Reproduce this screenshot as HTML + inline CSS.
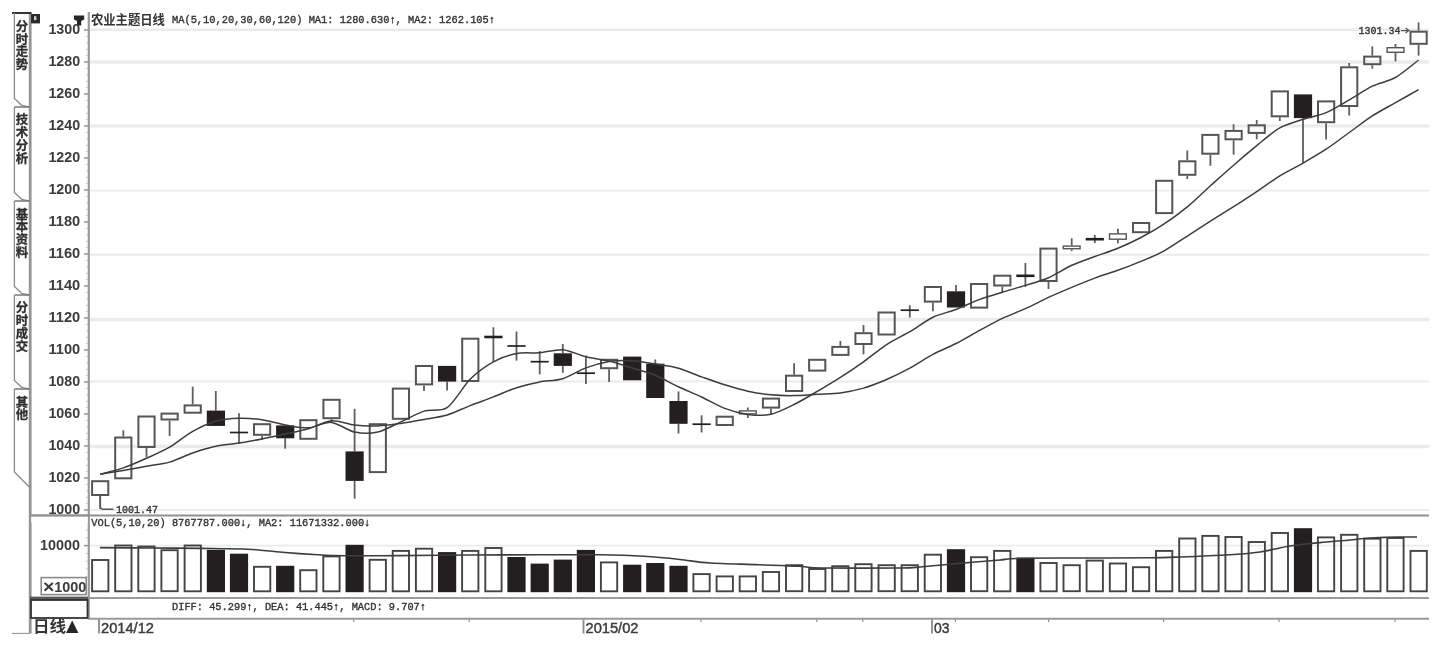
<!DOCTYPE html>
<html lang="zh-CN"><head><meta charset="utf-8"><title>农业主题日线</title>
<style>
html,body{margin:0;padding:0;background:#fff;}
body{width:1447px;height:645px;overflow:hidden;}
svg{display:block;filter:blur(0.6px);}
</style></head><body>
<svg width="1447" height="645" viewBox="0 0 1447 645">
<rect width="1447" height="645" fill="#fff"/>
<g class="grid">
<line x1="90" x2="1429" y1="29.8" y2="29.8" stroke="#ebebeb" stroke-width="2.4"/>
<line x1="90" x2="1429" y1="62.0" y2="62.0" stroke="#ebebeb" stroke-width="3.6"/>
<line x1="90" x2="1429" y1="126.0" y2="126.0" stroke="#ebebeb" stroke-width="3"/>
<line x1="90" x2="1429" y1="190.6" y2="190.6" stroke="#ebebeb" stroke-width="1.8"/>
<line x1="90" x2="1429" y1="254.8" y2="254.8" stroke="#ebebeb" stroke-width="2"/>
<line x1="90" x2="1429" y1="319.6" y2="319.6" stroke="#ebebeb" stroke-width="3.5"/>
<line x1="90" x2="1429" y1="381.6" y2="381.6" stroke="#ebebeb" stroke-width="2"/>
<line x1="90" x2="1429" y1="446.6" y2="446.6" stroke="#ebebeb" stroke-width="3.5"/>
<line x1="90" x2="1429" y1="510.0" y2="510.0" stroke="#ebebeb" stroke-width="2"/>
<line x1="90" x2="1429" y1="545.6" y2="545.6" stroke="#ebebeb" stroke-width="1.6"/>
</g>
<g class="frame">
<line x1="30.2" x2="30.2" y1="12" y2="633.5" stroke="#959595" stroke-width="2.8"/>
<line x1="88.8" x2="88.8" y1="12" y2="619" stroke="#9a9a9a" stroke-width="2.2"/>
<line x1="29" x2="1429" y1="515.4" y2="515.4" stroke="#8f8f8f" stroke-width="2"/>
<line x1="88" x2="1429" y1="598" y2="598" stroke="#9a9a9a" stroke-width="1.8"/>
<line x1="88" x2="1429" y1="618.8" y2="618.8" stroke="#9a9a9a" stroke-width="2"/>
<line x1="12" x2="30" y1="633.4" y2="633.4" stroke="#8f8f8f" stroke-width="1"/>
<line x1="84" x2="88" y1="30" y2="30" stroke="#9a9a9a" stroke-width="1.6"/>
<line x1="84" x2="88" y1="62" y2="62" stroke="#9a9a9a" stroke-width="1.6"/>
<line x1="84" x2="88" y1="94" y2="94" stroke="#9a9a9a" stroke-width="1.6"/>
<line x1="84" x2="88" y1="126" y2="126" stroke="#9a9a9a" stroke-width="1.6"/>
<line x1="84" x2="88" y1="158" y2="158" stroke="#9a9a9a" stroke-width="1.6"/>
<line x1="84" x2="88" y1="190" y2="190" stroke="#9a9a9a" stroke-width="1.6"/>
<line x1="84" x2="88" y1="222" y2="222" stroke="#9a9a9a" stroke-width="1.6"/>
<line x1="84" x2="88" y1="254" y2="254" stroke="#9a9a9a" stroke-width="1.6"/>
<line x1="84" x2="88" y1="286" y2="286" stroke="#9a9a9a" stroke-width="1.6"/>
<line x1="84" x2="88" y1="318" y2="318" stroke="#9a9a9a" stroke-width="1.6"/>
<line x1="84" x2="88" y1="350" y2="350" stroke="#9a9a9a" stroke-width="1.6"/>
<line x1="84" x2="88" y1="382" y2="382" stroke="#9a9a9a" stroke-width="1.6"/>
<line x1="84" x2="88" y1="414" y2="414" stroke="#9a9a9a" stroke-width="1.6"/>
<line x1="84" x2="88" y1="446" y2="446" stroke="#9a9a9a" stroke-width="1.6"/>
<line x1="84" x2="88" y1="478" y2="478" stroke="#9a9a9a" stroke-width="1.6"/>
<line x1="84" x2="88" y1="510" y2="510" stroke="#9a9a9a" stroke-width="1.6"/>
<line x1="86" x2="88" y1="36.4" y2="36.4" stroke="#c4c4c4" stroke-width="1"/>
<line x1="86" x2="88" y1="42.8" y2="42.8" stroke="#c4c4c4" stroke-width="1"/>
<line x1="86" x2="88" y1="49.2" y2="49.2" stroke="#c4c4c4" stroke-width="1"/>
<line x1="86" x2="88" y1="55.6" y2="55.6" stroke="#c4c4c4" stroke-width="1"/>
<line x1="86" x2="88" y1="68.4" y2="68.4" stroke="#c4c4c4" stroke-width="1"/>
<line x1="86" x2="88" y1="74.8" y2="74.8" stroke="#c4c4c4" stroke-width="1"/>
<line x1="86" x2="88" y1="81.2" y2="81.2" stroke="#c4c4c4" stroke-width="1"/>
<line x1="86" x2="88" y1="87.6" y2="87.6" stroke="#c4c4c4" stroke-width="1"/>
<line x1="86" x2="88" y1="100.4" y2="100.4" stroke="#c4c4c4" stroke-width="1"/>
<line x1="86" x2="88" y1="106.8" y2="106.8" stroke="#c4c4c4" stroke-width="1"/>
<line x1="86" x2="88" y1="113.2" y2="113.2" stroke="#c4c4c4" stroke-width="1"/>
<line x1="86" x2="88" y1="119.6" y2="119.6" stroke="#c4c4c4" stroke-width="1"/>
<line x1="86" x2="88" y1="132.4" y2="132.4" stroke="#c4c4c4" stroke-width="1"/>
<line x1="86" x2="88" y1="138.8" y2="138.8" stroke="#c4c4c4" stroke-width="1"/>
<line x1="86" x2="88" y1="145.2" y2="145.2" stroke="#c4c4c4" stroke-width="1"/>
<line x1="86" x2="88" y1="151.6" y2="151.6" stroke="#c4c4c4" stroke-width="1"/>
<line x1="86" x2="88" y1="164.4" y2="164.4" stroke="#c4c4c4" stroke-width="1"/>
<line x1="86" x2="88" y1="170.8" y2="170.8" stroke="#c4c4c4" stroke-width="1"/>
<line x1="86" x2="88" y1="177.2" y2="177.2" stroke="#c4c4c4" stroke-width="1"/>
<line x1="86" x2="88" y1="183.6" y2="183.6" stroke="#c4c4c4" stroke-width="1"/>
<line x1="86" x2="88" y1="196.4" y2="196.4" stroke="#c4c4c4" stroke-width="1"/>
<line x1="86" x2="88" y1="202.8" y2="202.8" stroke="#c4c4c4" stroke-width="1"/>
<line x1="86" x2="88" y1="209.2" y2="209.2" stroke="#c4c4c4" stroke-width="1"/>
<line x1="86" x2="88" y1="215.6" y2="215.6" stroke="#c4c4c4" stroke-width="1"/>
<line x1="86" x2="88" y1="228.4" y2="228.4" stroke="#c4c4c4" stroke-width="1"/>
<line x1="86" x2="88" y1="234.8" y2="234.8" stroke="#c4c4c4" stroke-width="1"/>
<line x1="86" x2="88" y1="241.2" y2="241.2" stroke="#c4c4c4" stroke-width="1"/>
<line x1="86" x2="88" y1="247.6" y2="247.6" stroke="#c4c4c4" stroke-width="1"/>
<line x1="86" x2="88" y1="260.4" y2="260.4" stroke="#c4c4c4" stroke-width="1"/>
<line x1="86" x2="88" y1="266.8" y2="266.8" stroke="#c4c4c4" stroke-width="1"/>
<line x1="86" x2="88" y1="273.2" y2="273.2" stroke="#c4c4c4" stroke-width="1"/>
<line x1="86" x2="88" y1="279.6" y2="279.6" stroke="#c4c4c4" stroke-width="1"/>
<line x1="86" x2="88" y1="292.4" y2="292.4" stroke="#c4c4c4" stroke-width="1"/>
<line x1="86" x2="88" y1="298.8" y2="298.8" stroke="#c4c4c4" stroke-width="1"/>
<line x1="86" x2="88" y1="305.2" y2="305.2" stroke="#c4c4c4" stroke-width="1"/>
<line x1="86" x2="88" y1="311.6" y2="311.6" stroke="#c4c4c4" stroke-width="1"/>
<line x1="86" x2="88" y1="324.4" y2="324.4" stroke="#c4c4c4" stroke-width="1"/>
<line x1="86" x2="88" y1="330.8" y2="330.8" stroke="#c4c4c4" stroke-width="1"/>
<line x1="86" x2="88" y1="337.2" y2="337.2" stroke="#c4c4c4" stroke-width="1"/>
<line x1="86" x2="88" y1="343.6" y2="343.6" stroke="#c4c4c4" stroke-width="1"/>
<line x1="86" x2="88" y1="356.4" y2="356.4" stroke="#c4c4c4" stroke-width="1"/>
<line x1="86" x2="88" y1="362.8" y2="362.8" stroke="#c4c4c4" stroke-width="1"/>
<line x1="86" x2="88" y1="369.2" y2="369.2" stroke="#c4c4c4" stroke-width="1"/>
<line x1="86" x2="88" y1="375.6" y2="375.6" stroke="#c4c4c4" stroke-width="1"/>
<line x1="86" x2="88" y1="388.4" y2="388.4" stroke="#c4c4c4" stroke-width="1"/>
<line x1="86" x2="88" y1="394.8" y2="394.8" stroke="#c4c4c4" stroke-width="1"/>
<line x1="86" x2="88" y1="401.2" y2="401.2" stroke="#c4c4c4" stroke-width="1"/>
<line x1="86" x2="88" y1="407.6" y2="407.6" stroke="#c4c4c4" stroke-width="1"/>
<line x1="86" x2="88" y1="420.4" y2="420.4" stroke="#c4c4c4" stroke-width="1"/>
<line x1="86" x2="88" y1="426.8" y2="426.8" stroke="#c4c4c4" stroke-width="1"/>
<line x1="86" x2="88" y1="433.2" y2="433.2" stroke="#c4c4c4" stroke-width="1"/>
<line x1="86" x2="88" y1="439.6" y2="439.6" stroke="#c4c4c4" stroke-width="1"/>
<line x1="86" x2="88" y1="452.4" y2="452.4" stroke="#c4c4c4" stroke-width="1"/>
<line x1="86" x2="88" y1="458.8" y2="458.8" stroke="#c4c4c4" stroke-width="1"/>
<line x1="86" x2="88" y1="465.2" y2="465.2" stroke="#c4c4c4" stroke-width="1"/>
<line x1="86" x2="88" y1="471.6" y2="471.6" stroke="#c4c4c4" stroke-width="1"/>
<line x1="86" x2="88" y1="484.4" y2="484.4" stroke="#c4c4c4" stroke-width="1"/>
<line x1="86" x2="88" y1="490.8" y2="490.8" stroke="#c4c4c4" stroke-width="1"/>
<line x1="86" x2="88" y1="497.2" y2="497.2" stroke="#c4c4c4" stroke-width="1"/>
<line x1="86" x2="88" y1="503.6" y2="503.6" stroke="#c4c4c4" stroke-width="1"/>
<line x1="85.5" x2="88" y1="530" y2="530" stroke="#c4c4c4" stroke-width="1"/>
<line x1="85.5" x2="88" y1="537.8" y2="537.8" stroke="#c4c4c4" stroke-width="1"/>
<line x1="85.5" x2="88" y1="545.6" y2="545.6" stroke="#c4c4c4" stroke-width="1"/>
<line x1="85.5" x2="88" y1="553.4" y2="553.4" stroke="#c4c4c4" stroke-width="1"/>
<line x1="85.5" x2="88" y1="561.2" y2="561.2" stroke="#c4c4c4" stroke-width="1"/>
<line x1="85.5" x2="88" y1="569" y2="569" stroke="#c4c4c4" stroke-width="1"/>
<line x1="85.5" x2="88" y1="576.8" y2="576.8" stroke="#c4c4c4" stroke-width="1"/>
<line x1="84" x2="88" y1="545.6" y2="545.6" stroke="#9a9a9a" stroke-width="1.6"/>
<rect x="30" y="596.6" width="58" height="4" fill="#5a5a5a"/>
<rect x="31" y="600" width="56.5" height="18" fill="#fff" stroke="#333" stroke-width="1.8"/>
<rect x="41.2" y="577.6" width="45" height="17" fill="#fff" stroke="#8a8a8a" stroke-width="1.6"/>
</g>
<g class="tabs" fill="none">
<line x1="12" x2="31.4" y1="13" y2="13" stroke="#333" stroke-width="2"/>
<path d="M14.4 13 V98.5 L21.7 105.3 L29 107" stroke="#8a8a8a" stroke-width="1.3"/>
<line x1="14.4" x2="29.5" y1="107" y2="107" stroke="#777" stroke-width="1.5"/>
<path d="M14.4 107 V192.5 L21.7 199.3 L29 201" stroke="#8a8a8a" stroke-width="1.3"/>
<line x1="14.4" x2="29.5" y1="201" y2="201" stroke="#777" stroke-width="1.5"/>
<path d="M14.4 201 V286.5 L21.7 293.3 L29 295" stroke="#8a8a8a" stroke-width="1.3"/>
<line x1="14.4" x2="29.5" y1="295" y2="295" stroke="#777" stroke-width="1.5"/>
<path d="M14.4 295 V380.5 L21.7 387.3 L29 389" stroke="#8a8a8a" stroke-width="1.3"/>
<line x1="14.4" x2="29.5" y1="389" y2="389" stroke="#777" stroke-width="1.5"/>
<path d="M14.4 389 V472 L29.3 487" stroke="#8a8a8a" stroke-width="1.3"/>
</g>
<rect x="31" y="14" width="9" height="9.4" fill="#2b2b2b"/><rect x="34" y="16.2" width="2.4" height="4" fill="#cfcfcf"/>
<path d="M74 15.5 H84.2 V19.5 L81.2 21 V25.5 H77 V21 L74 19.5 Z" fill="#262626"/>
<g class="k" stroke-linecap="butt">
<line x1="100.2" x2="100.2" y1="496" y2="509.0" stroke="#5e5e5e" stroke-width="1.8"/>
<rect x="92.1" y="481.20" width="16.2" height="13.80" fill="none" stroke="#555" stroke-width="2.0"/>
<line x1="123.3" x2="123.3" y1="430.3" y2="436.5" stroke="#5e5e5e" stroke-width="1.8"/>
<rect x="115.2" y="437.50" width="16.2" height="40.80" fill="none" stroke="#555" stroke-width="2.0"/>
<line x1="146.5" x2="146.5" y1="448" y2="457" stroke="#5e5e5e" stroke-width="1.8"/>
<rect x="138.4" y="416.50" width="16.2" height="30.50" fill="none" stroke="#555" stroke-width="2.0"/>
<line x1="169.6" x2="169.6" y1="420.5" y2="436" stroke="#5e5e5e" stroke-width="1.8"/>
<rect x="161.5" y="413.60" width="16.2" height="5.90" fill="none" stroke="#555" stroke-width="2.0"/>
<line x1="192.7" x2="192.7" y1="386.6" y2="404.4" stroke="#5e5e5e" stroke-width="1.8"/>
<rect x="184.6" y="405.40" width="16.2" height="7.30" fill="none" stroke="#555" stroke-width="2.0"/>
<line x1="215.8" x2="215.8" y1="391" y2="410.6" stroke="#5e5e5e" stroke-width="1.8"/>
<rect x="206.8" y="410.6" width="18.2" height="15.3" fill="#231f20"/>
<line x1="239.0" x2="239.0" y1="413.2" y2="443.8" stroke="#5e5e5e" stroke-width="1.8"/>
<line x1="229.9" x2="248.1" y1="432.5" y2="432.5" stroke="#231f20" stroke-width="1.7"/>
<line x1="262.1" x2="262.1" y1="435.8" y2="439.8" stroke="#5e5e5e" stroke-width="1.8"/>
<rect x="254.0" y="424.20" width="16.2" height="10.60" fill="none" stroke="#555" stroke-width="2.0"/>
<line x1="285.2" x2="285.2" y1="438.3" y2="448.7" stroke="#5e5e5e" stroke-width="1.8"/>
<rect x="276.1" y="425.4" width="18.2" height="12.9" fill="#231f20"/>
<rect x="300.3" y="420.20" width="16.2" height="18.60" fill="none" stroke="#555" stroke-width="2.0"/>
<line x1="331.5" x2="331.5" y1="419.2" y2="423" stroke="#5e5e5e" stroke-width="1.8"/>
<rect x="323.4" y="399.80" width="16.2" height="18.40" fill="none" stroke="#555" stroke-width="2.0"/>
<line x1="354.6" x2="354.6" y1="408.8" y2="451.4" stroke="#5e5e5e" stroke-width="1.8"/>
<line x1="354.6" x2="354.6" y1="480.9" y2="498.6" stroke="#5e5e5e" stroke-width="1.8"/>
<rect x="345.5" y="451.4" width="18.2" height="29.5" fill="#231f20"/>
<rect x="369.7" y="424.20" width="16.2" height="47.90" fill="none" stroke="#555" stroke-width="2.0"/>
<rect x="392.8" y="388.60" width="16.2" height="30.20" fill="none" stroke="#555" stroke-width="2.0"/>
<line x1="424.0" x2="424.0" y1="385.4" y2="391" stroke="#5e5e5e" stroke-width="1.8"/>
<rect x="415.9" y="366.00" width="16.2" height="18.40" fill="none" stroke="#555" stroke-width="2.0"/>
<line x1="447.1" x2="447.1" y1="381.6" y2="390.5" stroke="#5e5e5e" stroke-width="1.8"/>
<rect x="438.0" y="365.9" width="18.2" height="15.7" fill="#231f20"/>
<rect x="462.2" y="338.70" width="16.2" height="42.30" fill="none" stroke="#555" stroke-width="2.0"/>
<line x1="493.4" x2="493.4" y1="327.3" y2="362" stroke="#5e5e5e" stroke-width="1.8"/>
<line x1="484.3" x2="502.5" y1="337" y2="337" stroke="#231f20" stroke-width="2.6"/>
<line x1="516.5" x2="516.5" y1="331.5" y2="360.6" stroke="#5e5e5e" stroke-width="1.8"/>
<line x1="507.4" x2="525.6" y1="346" y2="346" stroke="#231f20" stroke-width="1.7"/>
<line x1="539.7" x2="539.7" y1="351" y2="374.3" stroke="#5e5e5e" stroke-width="1.8"/>
<line x1="530.6" x2="548.8" y1="361.7" y2="361.7" stroke="#231f20" stroke-width="1.7"/>
<line x1="562.8" x2="562.8" y1="344" y2="353.3" stroke="#5e5e5e" stroke-width="1.8"/>
<line x1="562.8" x2="562.8" y1="365.9" y2="372.8" stroke="#5e5e5e" stroke-width="1.8"/>
<rect x="553.7" y="353.3" width="18.2" height="12.6" fill="#231f20"/>
<line x1="585.9" x2="585.9" y1="355.5" y2="383.9" stroke="#5e5e5e" stroke-width="1.8"/>
<line x1="576.8" x2="595.0" y1="373.2" y2="373.2" stroke="#231f20" stroke-width="1.7"/>
<line x1="609.1" x2="609.1" y1="369.2" y2="382" stroke="#5e5e5e" stroke-width="1.8"/>
<rect x="601.0" y="359.80" width="16.2" height="8.40" fill="none" stroke="#555" stroke-width="2.0"/>
<rect x="623.1" y="356.6" width="18.2" height="23.7" fill="#231f20"/>
<line x1="655.3" x2="655.3" y1="359.5" y2="363.7" stroke="#5e5e5e" stroke-width="1.8"/>
<rect x="646.2" y="363.7" width="18.2" height="34.3" fill="#231f20"/>
<line x1="678.5" x2="678.5" y1="391.4" y2="401" stroke="#5e5e5e" stroke-width="1.8"/>
<line x1="678.5" x2="678.5" y1="423.8" y2="433.5" stroke="#5e5e5e" stroke-width="1.8"/>
<rect x="669.4" y="401" width="18.2" height="22.8" fill="#231f20"/>
<line x1="701.6" x2="701.6" y1="415.3" y2="432.4" stroke="#5e5e5e" stroke-width="1.8"/>
<line x1="692.5" x2="710.7" y1="424.2" y2="424.2" stroke="#231f20" stroke-width="1.7"/>
<rect x="716.6" y="416.70" width="16.2" height="8.30" fill="none" stroke="#555" stroke-width="2.0"/>
<line x1="747.8" x2="747.8" y1="407.5" y2="410.2" stroke="#5e5e5e" stroke-width="1.8"/>
<line x1="747.8" x2="747.8" y1="414.6" y2="418" stroke="#5e5e5e" stroke-width="1.8"/>
<rect x="739.4" y="410.90" width="16.8" height="3.00" fill="none" stroke="#555" stroke-width="1.4"/>
<line x1="771.0" x2="771.0" y1="408.6" y2="414.2" stroke="#5e5e5e" stroke-width="1.8"/>
<rect x="762.9" y="398.60" width="16.2" height="9.00" fill="none" stroke="#555" stroke-width="2.0"/>
<line x1="794.1" x2="794.1" y1="363.2" y2="374.7" stroke="#5e5e5e" stroke-width="1.8"/>
<rect x="786.0" y="375.70" width="16.2" height="15.30" fill="none" stroke="#555" stroke-width="2.0"/>
<rect x="809.1" y="359.80" width="16.2" height="10.80" fill="none" stroke="#555" stroke-width="2.0"/>
<line x1="840.4" x2="840.4" y1="341" y2="345.9" stroke="#5e5e5e" stroke-width="1.8"/>
<rect x="832.3" y="346.90" width="16.2" height="8.00" fill="none" stroke="#555" stroke-width="2.0"/>
<line x1="863.5" x2="863.5" y1="325" y2="332.2" stroke="#5e5e5e" stroke-width="1.8"/>
<line x1="863.5" x2="863.5" y1="345" y2="354.3" stroke="#5e5e5e" stroke-width="1.8"/>
<rect x="855.4" y="333.20" width="16.2" height="10.80" fill="none" stroke="#555" stroke-width="2.0"/>
<rect x="878.5" y="312.50" width="16.2" height="22.00" fill="none" stroke="#555" stroke-width="2.0"/>
<line x1="909.8" x2="909.8" y1="305.3" y2="317.5" stroke="#5e5e5e" stroke-width="1.8"/>
<line x1="900.6" x2="918.9" y1="310.2" y2="310.2" stroke="#231f20" stroke-width="1.7"/>
<line x1="932.9" x2="932.9" y1="302.6" y2="311.3" stroke="#5e5e5e" stroke-width="1.8"/>
<rect x="924.8" y="287.00" width="16.2" height="14.60" fill="none" stroke="#555" stroke-width="2.0"/>
<line x1="956.0" x2="956.0" y1="285" y2="291.3" stroke="#5e5e5e" stroke-width="1.8"/>
<rect x="946.9" y="291.3" width="18.2" height="16.2" fill="#231f20"/>
<rect x="971.0" y="284.00" width="16.2" height="23.60" fill="none" stroke="#555" stroke-width="2.0"/>
<line x1="1002.3" x2="1002.3" y1="286.5" y2="292.4" stroke="#5e5e5e" stroke-width="1.8"/>
<rect x="994.2" y="275.70" width="16.2" height="9.80" fill="none" stroke="#555" stroke-width="2.0"/>
<line x1="1025.4" x2="1025.4" y1="263" y2="287" stroke="#5e5e5e" stroke-width="1.8"/>
<line x1="1016.3" x2="1034.5" y1="275.8" y2="275.8" stroke="#231f20" stroke-width="2.6"/>
<line x1="1048.5" x2="1048.5" y1="282" y2="289" stroke="#5e5e5e" stroke-width="1.8"/>
<rect x="1040.4" y="248.60" width="16.2" height="32.40" fill="none" stroke="#555" stroke-width="2.0"/>
<line x1="1071.7" x2="1071.7" y1="238.3" y2="245.4" stroke="#5e5e5e" stroke-width="1.8"/>
<line x1="1071.7" x2="1071.7" y1="249.4" y2="251" stroke="#5e5e5e" stroke-width="1.8"/>
<rect x="1063.3" y="246.10" width="16.8" height="2.60" fill="none" stroke="#555" stroke-width="1.4"/>
<line x1="1094.8" x2="1094.8" y1="235" y2="243" stroke="#5e5e5e" stroke-width="1.8"/>
<line x1="1085.7" x2="1103.9" y1="239.2" y2="239.2" stroke="#231f20" stroke-width="2.6"/>
<line x1="1117.9" x2="1117.9" y1="228.8" y2="233.2" stroke="#5e5e5e" stroke-width="1.8"/>
<line x1="1117.9" x2="1117.9" y1="239.9" y2="243.2" stroke="#5e5e5e" stroke-width="1.8"/>
<rect x="1109.5" y="233.90" width="16.8" height="5.30" fill="none" stroke="#555" stroke-width="1.4"/>
<rect x="1133.0" y="223.00" width="16.2" height="9.20" fill="none" stroke="#555" stroke-width="2.0"/>
<rect x="1156.1" y="180.80" width="16.2" height="32.30" fill="none" stroke="#555" stroke-width="2.0"/>
<line x1="1187.3" x2="1187.3" y1="150.5" y2="160.3" stroke="#5e5e5e" stroke-width="1.8"/>
<line x1="1187.3" x2="1187.3" y1="175.8" y2="179" stroke="#5e5e5e" stroke-width="1.8"/>
<rect x="1179.2" y="161.30" width="16.2" height="13.50" fill="none" stroke="#555" stroke-width="2.0"/>
<line x1="1210.4" x2="1210.4" y1="154.7" y2="165.8" stroke="#5e5e5e" stroke-width="1.8"/>
<rect x="1202.3" y="134.90" width="16.2" height="18.80" fill="none" stroke="#555" stroke-width="2.0"/>
<line x1="1233.6" x2="1233.6" y1="124.3" y2="129.9" stroke="#5e5e5e" stroke-width="1.8"/>
<line x1="1233.6" x2="1233.6" y1="140.3" y2="154.7" stroke="#5e5e5e" stroke-width="1.8"/>
<rect x="1225.5" y="130.90" width="16.2" height="8.40" fill="none" stroke="#555" stroke-width="2.0"/>
<line x1="1256.7" x2="1256.7" y1="120" y2="124.3" stroke="#5e5e5e" stroke-width="1.8"/>
<line x1="1256.7" x2="1256.7" y1="133.9" y2="139.2" stroke="#5e5e5e" stroke-width="1.8"/>
<rect x="1248.6" y="125.30" width="16.2" height="7.60" fill="none" stroke="#555" stroke-width="2.0"/>
<line x1="1279.8" x2="1279.8" y1="117.3" y2="121" stroke="#5e5e5e" stroke-width="1.8"/>
<rect x="1271.7" y="91.40" width="16.2" height="24.90" fill="none" stroke="#555" stroke-width="2.0"/>
<line x1="1303.0" x2="1303.0" y1="118.1" y2="163.1" stroke="#5e5e5e" stroke-width="1.8"/>
<rect x="1293.9" y="94.4" width="18.2" height="23.7" fill="#231f20"/>
<line x1="1326.1" x2="1326.1" y1="123.2" y2="139.4" stroke="#5e5e5e" stroke-width="1.8"/>
<rect x="1318.0" y="101.40" width="16.2" height="20.80" fill="none" stroke="#555" stroke-width="2.0"/>
<line x1="1349.2" x2="1349.2" y1="63" y2="66.3" stroke="#5e5e5e" stroke-width="1.8"/>
<line x1="1349.2" x2="1349.2" y1="107" y2="115.5" stroke="#5e5e5e" stroke-width="1.8"/>
<rect x="1341.1" y="67.30" width="16.2" height="38.70" fill="none" stroke="#555" stroke-width="2.0"/>
<line x1="1372.3" x2="1372.3" y1="46.4" y2="55.6" stroke="#5e5e5e" stroke-width="1.8"/>
<line x1="1372.3" x2="1372.3" y1="65.2" y2="68.8" stroke="#5e5e5e" stroke-width="1.8"/>
<rect x="1364.2" y="56.60" width="16.2" height="7.60" fill="none" stroke="#555" stroke-width="2.0"/>
<line x1="1395.5" x2="1395.5" y1="44" y2="47" stroke="#5e5e5e" stroke-width="1.8"/>
<line x1="1395.5" x2="1395.5" y1="53" y2="61.4" stroke="#5e5e5e" stroke-width="1.8"/>
<rect x="1387.1" y="47.70" width="16.8" height="4.60" fill="none" stroke="#555" stroke-width="1.4"/>
<line x1="1418.6" x2="1418.6" y1="22.4" y2="30.7" stroke="#5e5e5e" stroke-width="1.8"/>
<line x1="1418.6" x2="1418.6" y1="44.8" y2="55.6" stroke="#5e5e5e" stroke-width="1.8"/>
<rect x="1410.5" y="31.70" width="16.2" height="12.10" fill="none" stroke="#555" stroke-width="2.0"/>
</g>
<path fill="none" stroke="#3d3d3d" stroke-width="1.5" stroke-linejoin="round" d="M100.2 474.2 C103.5 473.3 116.7 470.2 123.3 467.9 C129.9 465.6 139.9 461.3 146.5 458.3 C153.1 455.3 163.0 451.1 169.6 447.2 C176.2 443.3 186.1 435.0 192.7 431.3 C199.3 427.6 209.2 423.1 215.8 421.2 C222.5 419.3 232.4 418.4 239.0 418.2 C245.6 418.0 255.5 418.8 262.1 419.7 C268.7 420.7 278.6 423.7 285.2 424.9 C291.8 426.0 301.8 428.2 308.4 427.8 C315.0 427.5 324.9 421.8 331.5 422.4 C338.1 423.0 348.0 430.7 354.6 432.1 C361.2 433.5 371.2 433.5 377.8 432.1 C384.4 430.6 394.3 424.9 400.9 421.9 C407.5 418.9 417.4 413.1 424.0 411.1 C430.6 409.1 440.5 412.2 447.1 407.7 C453.8 403.1 463.7 385.6 470.3 379.0 C476.9 372.5 486.8 365.4 493.4 361.8 C500.0 358.1 509.9 354.7 516.5 353.5 C523.1 352.2 533.1 353.3 539.7 352.8 C546.3 352.3 556.2 349.1 562.8 349.7 C569.4 350.2 579.3 355.1 585.9 356.8 C592.5 358.4 602.5 359.5 609.1 361.1 C615.7 362.7 625.6 366.0 632.2 368.0 C638.8 370.0 648.7 372.5 655.3 375.2 C661.9 377.9 671.8 383.7 678.5 386.8 C685.1 389.9 695.0 393.9 701.6 397.0 C708.2 400.1 718.1 405.9 724.7 408.4 C731.3 410.9 741.2 413.5 747.8 414.4 C754.4 415.2 764.4 415.7 771.0 414.3 C777.6 412.9 787.5 407.8 794.1 404.5 C800.7 401.2 810.6 395.3 817.2 391.4 C823.8 387.5 833.8 381.7 840.4 377.4 C847.0 373.2 856.9 366.5 863.5 361.8 C870.1 357.2 880.0 348.9 886.6 344.6 C893.2 340.3 903.1 335.6 909.8 331.7 C916.4 327.8 926.3 320.3 932.9 317.2 C939.5 314.0 949.4 312.0 956.0 309.5 C962.6 307.0 972.5 302.1 979.1 299.6 C985.7 297.2 995.7 294.3 1002.3 292.3 C1008.9 290.2 1018.8 287.5 1025.4 285.4 C1032.0 283.3 1041.9 280.6 1048.5 277.7 C1055.1 274.8 1065.1 268.3 1071.7 265.3 C1078.3 262.3 1088.2 259.0 1094.8 256.5 C1101.4 254.1 1111.3 251.0 1117.9 248.2 C1124.5 245.5 1134.4 241.0 1141.0 237.5 C1147.7 234.0 1157.6 228.3 1164.2 223.9 C1170.8 219.6 1180.7 212.3 1187.3 206.9 C1193.9 201.5 1203.8 191.8 1210.4 185.8 C1217.0 179.9 1227.0 170.9 1233.6 165.2 C1240.2 159.4 1250.1 151.0 1256.7 145.6 C1263.3 140.3 1273.2 131.5 1279.8 127.8 C1286.4 124.0 1296.4 121.5 1303.0 119.3 C1309.6 117.2 1319.5 115.4 1326.1 112.6 C1332.7 109.8 1342.6 103.7 1349.2 99.9 C1355.8 96.1 1365.7 89.4 1372.3 86.2 C1379.0 83.0 1388.9 81.2 1395.5 77.5 C1402.1 73.7 1415.3 62.5 1418.6 60.0"/>
<path fill="none" stroke="#3d3d3d" stroke-width="1.5" stroke-linejoin="round" d="M100.2 474.2 C103.5 473.7 116.7 471.5 123.3 470.4 C129.9 469.3 139.9 467.4 146.5 466.2 C153.1 465.0 163.0 464.0 169.6 462.1 C176.2 460.2 186.1 455.3 192.7 453.0 C199.3 450.7 209.2 447.7 215.8 446.3 C222.5 444.9 232.4 444.1 239.0 443.0 C245.6 441.9 255.5 440.2 262.1 438.9 C268.7 437.6 278.6 435.4 285.2 434.0 C291.8 432.6 301.8 430.7 308.4 428.8 C315.0 426.9 324.9 421.2 331.5 420.7 C338.1 420.2 348.0 424.4 354.6 425.1 C361.2 425.9 371.2 426.1 377.8 425.9 C384.4 425.7 394.3 424.3 400.9 423.4 C407.5 422.5 417.4 420.7 424.0 419.5 C430.6 418.3 440.5 417.0 447.1 415.0 C453.8 413.0 463.7 408.1 470.3 405.6 C476.9 403.0 486.8 399.5 493.4 396.9 C500.0 394.4 509.9 389.8 516.5 387.7 C523.1 385.6 533.1 383.2 539.7 381.9 C546.3 380.7 556.2 380.7 562.8 378.7 C569.4 376.7 579.3 370.3 585.9 367.9 C592.5 365.4 602.5 362.5 609.1 361.4 C615.7 360.4 625.6 360.4 632.2 360.7 C638.8 361.1 648.7 362.9 655.3 364.0 C661.9 365.1 671.8 366.4 678.5 368.2 C685.1 370.1 695.0 374.5 701.6 376.9 C708.2 379.2 718.1 382.7 724.7 384.8 C731.3 386.8 741.2 389.7 747.8 391.2 C754.4 392.6 764.4 394.1 771.0 394.8 C777.6 395.4 787.5 395.7 794.1 395.6 C800.7 395.6 810.6 394.6 817.2 394.2 C823.8 393.8 833.8 393.8 840.4 392.9 C847.0 392.0 856.9 390.0 863.5 388.1 C870.1 386.2 880.0 382.3 886.6 379.5 C893.2 376.6 903.1 371.7 909.8 368.1 C916.4 364.5 926.3 357.8 932.9 354.3 C939.5 350.8 949.4 346.8 956.0 343.5 C962.6 340.1 972.5 334.3 979.1 330.7 C985.7 327.2 995.7 321.6 1002.3 318.4 C1008.9 315.3 1018.8 311.6 1025.4 308.6 C1032.0 305.6 1041.9 300.5 1048.5 297.4 C1055.1 294.4 1065.1 290.2 1071.7 287.4 C1078.3 284.6 1088.2 280.5 1094.8 278.1 C1101.4 275.6 1111.3 272.6 1117.9 270.3 C1124.5 267.9 1134.4 264.2 1141.0 261.4 C1147.7 258.7 1157.6 254.4 1164.2 250.8 C1170.8 247.2 1180.7 240.3 1187.3 236.1 C1193.9 231.9 1203.8 225.4 1210.4 221.2 C1217.0 217.0 1227.0 210.9 1233.6 206.7 C1240.2 202.5 1250.1 196.0 1256.7 191.6 C1263.3 187.2 1273.2 179.9 1279.8 175.8 C1286.4 171.8 1296.4 166.9 1303.0 163.1 C1309.6 159.3 1319.5 153.6 1326.1 149.2 C1332.7 144.9 1342.6 137.3 1349.2 132.5 C1355.8 127.8 1365.7 120.2 1372.3 115.9 C1379.0 111.6 1388.9 106.4 1395.5 102.6 C1402.1 98.9 1415.3 91.5 1418.6 89.7"/>
<path d="M100.2 496 V507.5 L102.3 509.3 H113.5" fill="none" stroke="#555" stroke-width="1.4"/>
<path d="M1401 30.6 H1409 M1405.5 28 L1409 30.6 L1405.5 33" fill="none" stroke="#555" stroke-width="1.2"/>
<g class="vol">
<rect x="92.1" y="560.0" width="16.3" height="31.3" fill="none" stroke="#444" stroke-width="1.9"/>
<rect x="115.2" y="545.5" width="16.3" height="45.8" fill="none" stroke="#444" stroke-width="1.9"/>
<rect x="138.3" y="546.5" width="16.3" height="44.8" fill="none" stroke="#444" stroke-width="1.9"/>
<rect x="161.4" y="550.2" width="16.3" height="41.0" fill="none" stroke="#444" stroke-width="1.9"/>
<rect x="184.6" y="545.5" width="16.3" height="45.8" fill="none" stroke="#444" stroke-width="1.9"/>
<rect x="206.8" y="549.8" width="18.2" height="42.4" fill="#231f20"/>
<rect x="229.9" y="553.7" width="18.2" height="38.5" fill="#231f20"/>
<rect x="254.0" y="566.8" width="16.3" height="24.5" fill="none" stroke="#444" stroke-width="1.9"/>
<rect x="276.1" y="565.8" width="18.2" height="26.4" fill="#231f20"/>
<rect x="300.2" y="570.2" width="16.3" height="21.1" fill="none" stroke="#444" stroke-width="1.9"/>
<rect x="323.3" y="556.4" width="16.3" height="34.9" fill="none" stroke="#444" stroke-width="1.9"/>
<rect x="345.5" y="544.8" width="18.2" height="47.4" fill="#231f20"/>
<rect x="369.6" y="559.8" width="16.3" height="31.5" fill="none" stroke="#444" stroke-width="1.9"/>
<rect x="392.7" y="550.9" width="16.3" height="40.4" fill="none" stroke="#444" stroke-width="1.9"/>
<rect x="415.9" y="548.7" width="16.3" height="42.6" fill="none" stroke="#444" stroke-width="1.9"/>
<rect x="438.0" y="552.1" width="18.2" height="40.1" fill="#231f20"/>
<rect x="462.1" y="550.9" width="16.3" height="40.4" fill="none" stroke="#444" stroke-width="1.9"/>
<rect x="485.3" y="548.0" width="16.3" height="43.3" fill="none" stroke="#444" stroke-width="1.9"/>
<rect x="507.4" y="557" width="18.2" height="35.2" fill="#231f20"/>
<rect x="530.6" y="563.6" width="18.2" height="28.6" fill="#231f20"/>
<rect x="553.7" y="559.6" width="18.2" height="32.6" fill="#231f20"/>
<rect x="576.8" y="549.9" width="18.2" height="42.3" fill="#231f20"/>
<rect x="600.9" y="562.4" width="16.3" height="28.9" fill="none" stroke="#444" stroke-width="1.9"/>
<rect x="623.1" y="564.7" width="18.2" height="27.5" fill="#231f20"/>
<rect x="646.2" y="563" width="18.2" height="29.2" fill="#231f20"/>
<rect x="669.4" y="565.8" width="18.2" height="26.4" fill="#231f20"/>
<rect x="693.4" y="574.1" width="16.3" height="17.2" fill="none" stroke="#444" stroke-width="1.9"/>
<rect x="716.6" y="576.4" width="16.3" height="14.9" fill="none" stroke="#444" stroke-width="1.9"/>
<rect x="739.7" y="576.4" width="16.3" height="14.9" fill="none" stroke="#444" stroke-width="1.9"/>
<rect x="762.8" y="572.0" width="16.3" height="19.3" fill="none" stroke="#444" stroke-width="1.9"/>
<rect x="786.0" y="565.2" width="16.3" height="26.0" fill="none" stroke="#444" stroke-width="1.9"/>
<rect x="809.1" y="569.0" width="16.3" height="22.3" fill="none" stroke="#444" stroke-width="1.9"/>
<rect x="832.2" y="566.2" width="16.3" height="25.1" fill="none" stroke="#444" stroke-width="1.9"/>
<rect x="855.3" y="564.2" width="16.3" height="27.1" fill="none" stroke="#444" stroke-width="1.9"/>
<rect x="878.5" y="565.2" width="16.3" height="26.0" fill="none" stroke="#444" stroke-width="1.9"/>
<rect x="901.6" y="565.2" width="16.3" height="26.0" fill="none" stroke="#444" stroke-width="1.9"/>
<rect x="924.7" y="554.7" width="16.3" height="36.6" fill="none" stroke="#444" stroke-width="1.9"/>
<rect x="946.9" y="549.2" width="18.2" height="43.0" fill="#231f20"/>
<rect x="971.0" y="557.2" width="16.3" height="34.0" fill="none" stroke="#444" stroke-width="1.9"/>
<rect x="994.1" y="550.9" width="16.3" height="40.4" fill="none" stroke="#444" stroke-width="1.9"/>
<rect x="1016.3" y="557.7" width="18.2" height="34.5" fill="#231f20"/>
<rect x="1040.4" y="563.0" width="16.3" height="28.3" fill="none" stroke="#444" stroke-width="1.9"/>
<rect x="1063.5" y="565.2" width="16.3" height="26.0" fill="none" stroke="#444" stroke-width="1.9"/>
<rect x="1086.6" y="560.6" width="16.3" height="30.7" fill="none" stroke="#444" stroke-width="1.9"/>
<rect x="1109.8" y="563.5" width="16.3" height="27.8" fill="none" stroke="#444" stroke-width="1.9"/>
<rect x="1132.9" y="567.2" width="16.3" height="24.0" fill="none" stroke="#444" stroke-width="1.9"/>
<rect x="1156.0" y="550.9" width="16.3" height="40.4" fill="none" stroke="#444" stroke-width="1.9"/>
<rect x="1179.2" y="538.5" width="16.3" height="52.8" fill="none" stroke="#444" stroke-width="1.9"/>
<rect x="1202.3" y="535.9" width="16.3" height="55.4" fill="none" stroke="#444" stroke-width="1.9"/>
<rect x="1225.4" y="537.0" width="16.3" height="54.3" fill="none" stroke="#444" stroke-width="1.9"/>
<rect x="1248.6" y="542.0" width="16.3" height="49.3" fill="none" stroke="#444" stroke-width="1.9"/>
<rect x="1271.7" y="533.0" width="16.3" height="58.3" fill="none" stroke="#444" stroke-width="1.9"/>
<rect x="1293.9" y="528.2" width="18.2" height="64.0" fill="#231f20"/>
<rect x="1317.9" y="537.4" width="16.3" height="53.9" fill="none" stroke="#444" stroke-width="1.9"/>
<rect x="1341.1" y="534.8" width="16.3" height="56.5" fill="none" stroke="#444" stroke-width="1.9"/>
<rect x="1364.2" y="538.7" width="16.3" height="52.6" fill="none" stroke="#444" stroke-width="1.9"/>
<rect x="1387.3" y="538.0" width="16.3" height="53.3" fill="none" stroke="#444" stroke-width="1.9"/>
<rect x="1410.5" y="550.9" width="16.3" height="40.4" fill="none" stroke="#444" stroke-width="1.9"/>
</g>
<path fill="none" stroke="#3d3d3d" stroke-width="1.6" stroke-linejoin="round" d="M99.8 547.6 C107.0 547.7 135.7 547.9 150.0 548.0 C164.3 548.1 186.0 548.2 200.0 548.4 C214.0 548.6 235.9 548.6 248.0 549.2 C260.1 549.8 275.0 551.7 285.0 552.5 C295.0 553.3 309.4 554.3 318.0 554.8 C326.6 555.3 333.3 555.7 345.0 555.8 C356.7 555.9 382.1 555.7 400.0 555.6 C417.9 555.5 450.0 555.1 470.0 555.0 C490.0 554.9 521.4 554.8 540.0 554.8 C558.6 554.8 585.1 554.6 600.0 554.8 C614.9 555.0 632.6 555.6 644.0 556.3 C655.4 557.0 670.6 558.5 680.0 559.5 C689.4 560.5 698.7 562.3 710.0 563.0 C721.3 563.7 746.3 564.2 759.0 564.7 C771.7 565.2 790.1 565.8 799.0 566.3 C807.9 566.8 806.6 567.8 821.0 568.0 C835.4 568.2 885.9 568.1 900.0 568.0 C914.1 567.9 913.7 567.5 920.0 567.0 C926.3 566.5 936.1 565.4 944.0 564.7 C951.9 564.0 967.0 562.7 975.0 562.0 C983.0 561.3 993.6 560.5 1000.0 560.0 C1006.4 559.5 1005.7 558.6 1020.0 558.3 C1034.3 558.0 1081.4 558.1 1100.0 558.0 C1118.6 557.9 1138.6 557.9 1150.0 557.8 C1161.4 557.7 1168.6 557.4 1180.0 557.0 C1191.4 556.6 1218.6 555.5 1230.0 554.8 C1241.4 554.1 1253.6 552.8 1260.0 552.0 C1266.4 551.2 1270.7 549.9 1275.0 549.0 C1279.3 548.1 1283.6 546.9 1290.0 546.0 C1296.4 545.1 1311.4 543.5 1320.0 542.6 C1328.6 541.7 1342.9 540.7 1350.0 540.0 C1357.1 539.3 1362.9 538.4 1370.0 538.0 C1377.1 537.6 1393.3 537.1 1400.0 537.0 C1406.7 536.9 1414.6 537.0 1417.0 537.0"/>
<line x1="353.8" x2="353.8" y1="619.5" y2="622" stroke="#777" stroke-width="1"/>
<line x1="469.2" x2="469.2" y1="619.5" y2="622" stroke="#777" stroke-width="1"/>
<line x1="701" x2="701" y1="619.5" y2="622" stroke="#777" stroke-width="1"/>
<line x1="816.8" x2="816.8" y1="619.5" y2="622" stroke="#777" stroke-width="1"/>
<line x1="862.8" x2="862.8" y1="619.5" y2="622" stroke="#777" stroke-width="1"/>
<line x1="955.3" x2="955.3" y1="619.5" y2="622" stroke="#777" stroke-width="1"/>
<line x1="1048.7" x2="1048.7" y1="619.5" y2="622" stroke="#777" stroke-width="1"/>
<line x1="1163.7" x2="1163.7" y1="619.5" y2="622" stroke="#777" stroke-width="1"/>
<line x1="1279" x2="1279" y1="619.5" y2="622" stroke="#777" stroke-width="1"/>
<line x1="1395" x2="1395" y1="619.5" y2="622" stroke="#777" stroke-width="1"/>
<line x1="99" x2="99" y1="619.5" y2="633.4" stroke="#8a8a8a" stroke-width="1.8"/>
<line x1="583.5" x2="583.5" y1="619.5" y2="633.4" stroke="#8a8a8a" stroke-width="1.8"/>
<line x1="932" x2="932" y1="619.5" y2="633.4" stroke="#8a8a8a" stroke-width="1.8"/>
<g class="ylab" font-family="'Liberation Sans', sans-serif" font-size="14" font-weight="bold" fill="#3c3c3c" text-anchor="end">
<text x="80.2" y="34.4" textLength="31.8" lengthAdjust="spacingAndGlyphs">1300</text>
<text x="80.2" y="66.4" textLength="31.8" lengthAdjust="spacingAndGlyphs">1280</text>
<text x="80.2" y="98.4" textLength="31.8" lengthAdjust="spacingAndGlyphs">1260</text>
<text x="80.2" y="130.4" textLength="31.8" lengthAdjust="spacingAndGlyphs">1240</text>
<text x="80.2" y="162.4" textLength="31.8" lengthAdjust="spacingAndGlyphs">1220</text>
<text x="80.2" y="194.4" textLength="31.8" lengthAdjust="spacingAndGlyphs">1200</text>
<text x="80.2" y="226.4" textLength="31.8" lengthAdjust="spacingAndGlyphs">1180</text>
<text x="80.2" y="258.4" textLength="31.8" lengthAdjust="spacingAndGlyphs">1160</text>
<text x="80.2" y="290.4" textLength="31.8" lengthAdjust="spacingAndGlyphs">1140</text>
<text x="80.2" y="322.4" textLength="31.8" lengthAdjust="spacingAndGlyphs">1120</text>
<text x="80.2" y="354.4" textLength="31.8" lengthAdjust="spacingAndGlyphs">1100</text>
<text x="80.2" y="386.4" textLength="31.8" lengthAdjust="spacingAndGlyphs">1080</text>
<text x="80.2" y="418.4" textLength="31.8" lengthAdjust="spacingAndGlyphs">1060</text>
<text x="80.2" y="450.4" textLength="31.8" lengthAdjust="spacingAndGlyphs">1040</text>
<text x="80.2" y="482.4" textLength="31.8" lengthAdjust="spacingAndGlyphs">1020</text>
<text x="80.2" y="514.4" textLength="31.8" lengthAdjust="spacingAndGlyphs">1000</text>
<text x="80" y="550" textLength="40" lengthAdjust="spacingAndGlyphs">10000</text>
<text x="86.4" y="592.2" textLength="43.5" lengthAdjust="spacingAndGlyphs"><tspan font-size="19" dy="1.2">×</tspan><tspan dy="-1.2">1000</tspan></text>
</g>
<rect x="31.2" y="516.4" width="56.4" height="6" fill="#fff"/>
<line x1="29" x2="90" y1="515.4" y2="515.4" stroke="#8f8f8f" stroke-width="2"/>
<text x="90.9" y="23.8" font-family="'Liberation Sans', 'Noto Sans CJK SC', sans-serif" font-size="13" font-weight="bold" fill="#333" textLength="74" lengthAdjust="spacingAndGlyphs">农业主题日线</text>
<g font-family="'Liberation Mono', monospace" font-size="10.6" fill="#333" stroke="#333" stroke-width="0.35">
<text x="172" y="23" textLength="323" lengthAdjust="spacingAndGlyphs">MA(5,10,20,30,60,120) MA1: 1280.630↑, MA2: 1262.105↑</text>
<text x="91.3" y="525.8" textLength="279" lengthAdjust="spacingAndGlyphs">VOL(5,10,20) 8767787.000↓, MA2: 11671332.000↓</text>
<text x="172" y="609.5" textLength="254" lengthAdjust="spacingAndGlyphs">DIFF: 45.299↑, DEA: 41.445↑, MACD: 9.707↑</text>
<text x="116" y="512.6" textLength="42" lengthAdjust="spacingAndGlyphs">1001.47</text>
<text x="1358.5" y="34" textLength="42" lengthAdjust="spacingAndGlyphs">1301.34</text>
</g>
<g font-family="'Liberation Sans', 'Noto Sans CJK SC', sans-serif" font-size="12.4" fill="#2e2e2e" stroke="#2e2e2e" stroke-width="0.3" text-anchor="middle" font-weight="bold">
<text x="22" y="30.9">分</text>
<text x="22" y="43.6">时</text>
<text x="22" y="56.3">走</text>
<text x="22" y="69.0">势</text>
<text x="22" y="124.4">技</text>
<text x="22" y="137.1">术</text>
<text x="22" y="149.8">分</text>
<text x="22" y="162.5">析</text>
<text x="22" y="218.7">基</text>
<text x="22" y="231.4">本</text>
<text x="22" y="244.1">资</text>
<text x="22" y="256.8">料</text>
<text x="22" y="312.4">分</text>
<text x="22" y="325.1">时</text>
<text x="22" y="337.8">成</text>
<text x="22" y="350.5">交</text>
<text x="22" y="406.7">其</text>
<text x="22" y="419.4">他</text>
</g>
<text x="33" y="632" font-family="'Liberation Sans', 'Noto Sans CJK SC', sans-serif" font-size="15.5" font-weight="bold" fill="#333" textLength="33" lengthAdjust="spacingAndGlyphs">日线</text>
<path d="M66 633 L72.2 620.6 L78.4 633 Z" fill="#262626"/>
<g font-family="'Liberation Sans', sans-serif" font-size="14.6" fill="#3c3c3c" stroke="#3c3c3c" stroke-width="0.45">
<text x="101" y="632.8" textLength="53" lengthAdjust="spacingAndGlyphs">2014/12</text>
<text x="585.5" y="632.8" textLength="53" lengthAdjust="spacingAndGlyphs">2015/02</text>
<text x="934" y="632.8" textLength="15.5" lengthAdjust="spacingAndGlyphs">03</text>
</g>
</svg>
</body></html>
